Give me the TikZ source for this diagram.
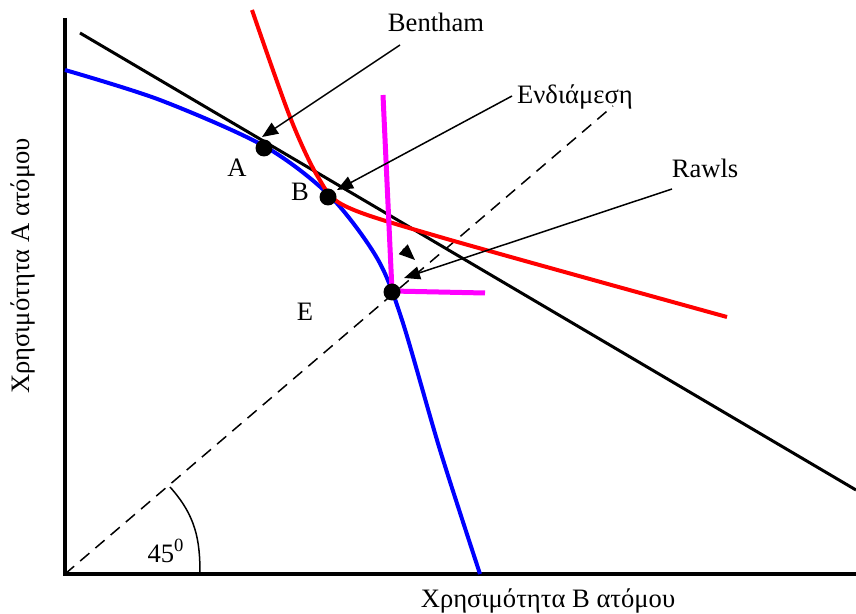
\documentclass[tikz,border=0pt]{standalone}
\usepackage{fontspec}
\setmainfont{Liberation Serif}
\usetikzlibrary{arrows.meta,positioning}
\definecolor{frontblue}{RGB}{0,0,255}
\definecolor{indred}{RGB}{255,0,0}
\definecolor{rawlsmag}{RGB}{255,0,255}

\begin{document}
\begin{tikzpicture}[x=0.5pt, y=-0.5pt,
    every node/.style={font=\fontsize{13.3}{16}\selectfont},
    dot/.style={circle, fill=black, inner sep=0pt, minimum size=8.5pt},
    pointer/.style={line width=0.75pt, -{Triangle[length=8pt, width=6.5pt]}}]
  \useasboundingbox (0,0) rectangle (856,614);

  % axes
  \draw[line width=2pt] (65,18) -- (65,574) -- (856,574);
  \node[rotate=90] (ylab) at (23,266) {Χρησιμότητα Α ατόμου};
  \node (xlab) at (548,601) {Χρησιμότητα Β ατόμου};

  % 45 degree line
  \draw[dashed, line width=0.75pt, dash pattern=on 6pt off 4pt] (65,574) -- (613,106);
  \draw[line width=0.75pt] (170,487) .. controls (196,516) and (200,540) .. (200,574);
  \node (deg) at (166,551) {45\textsuperscript{0}};

  % budget line
  \draw[line width=1.5pt] (80,33) -- (856,490);

  % utility frontier
  \draw[frontblue, line width=2pt] plot[smooth, tension=0.5] coordinates
    {(65,70) (160,100) (264,146) (330,196) (377,258) (402,320) (440,450) (480,574)};

  % indifference curve
  \draw[indred, line width=2pt] plot[smooth, tension=0.5] coordinates
    {(252,10) (290,117) (318,177) (345,206) (440,237) (727,317)};

  % Rawls
  \draw[rawlsmag, line width=2.5pt] (383,95) -- (392,291) -- (485,293);

  % points
  \node[dot] (A) at (264,148) {};
  \node[dot] (B) at (328,197) {};
  \node[dot] (E) at (392,292) {};
  \node (Alab) at (237,168) {A};
  \node (Blab) at (300,192) {B};
  \node (Elab) at (305,312) {E};

  % labels and pointers
  \node (bentham) at (436,22) {Bentham};
  \node (endiam) at (575,97) {Ενδιάμεση};
  \node (rawls) at (705,168) {Rawls};
  \coordinate (benthamfoot) at (400,45);
  \coordinate (endiamfoot) at (512,96);
  \coordinate (rawlsfoot) at (672,189);
  \coordinate (stray) at (403,249);
  \draw[pointer] (benthamfoot) -- (262,137);
  \draw[pointer] (endiamfoot) -- (337,190);
  \draw[pointer] (rawlsfoot) -- (404,278);
  \draw[pointer] (stray) -- (415,260);
\end{tikzpicture}
\end{document}
